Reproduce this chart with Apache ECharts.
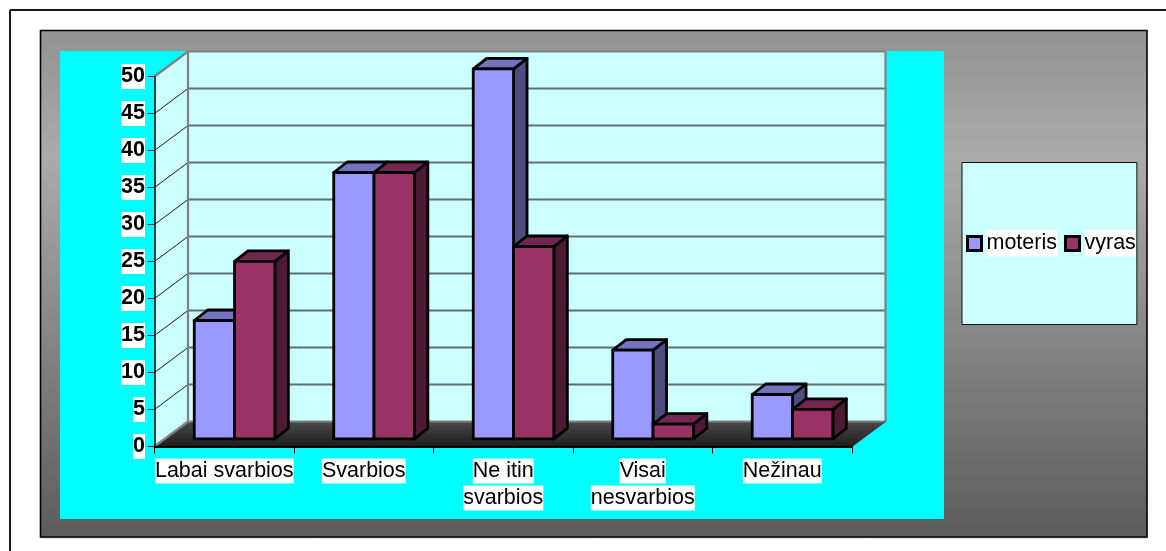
<!DOCTYPE html>
<html><head><meta charset="utf-8">
<style>html,body{margin:0;padding:0;background:#fff}#c{width:1166px;height:551px}</style>
<script src="https://cdn.jsdelivr.net/npm/echarts@6/dist/echarts.min.js"></script>
</head><body><div id="c"></div>
<script>
const categories = ['Labai svarbios','Svarbios','Ne itin\nsvarbios','Visai\nnesvarbios','Nežinau'];
const moteris = [16,36,50,12,6];
const vyras = [24,36,26,2,4];
const yTicks = [0,5,10,15,20,25,30,35,40,45,50];

const FONT = '"Liberation Sans", Arial, sans-serif';
const DEPTH_X = 33.5, DEPTH_Y = -25;       // plot box depth
const GAP_X = 10.3, GAP_Y = -7.6;          // floor margin in front of the bars
const BAR_DX = 13.5, BAR_DY = -10.5;       // bar depth
const BAR_W = 40.3;

function barRenderer(side, front, top, right){
  return function(params, api){
    const cat = api.value(0), val = api.value(1);
    const c0 = api.coord([cat,0]), c1 = api.coord([cat,val]);
    const x0 = c0[0] + GAP_X + (side<0 ? -BAR_W : 0), x1 = x0 + BAR_W;
    const yb = c0[1] + GAP_Y, yt = c1[1] + GAP_Y;
    const ln = {stroke:'#000', lineWidth:2.8, lineJoin:'round'};
    return {type:'group', children:[
      {type:'polygon', shape:{points:[[x1,yt],[x1+BAR_DX,yt+BAR_DY],[x1+BAR_DX,yb+BAR_DY],[x1,yb]]}, style:Object.assign({fill:right},ln)},
      {type:'polygon', shape:{points:[[x0,yt],[x0+BAR_DX,yt+BAR_DY],[x1+BAR_DX,yt+BAR_DY],[x1,yt]]}, style:Object.assign({fill:top},ln)},
      {type:'rect', shape:{x:x0,y:yt,width:BAR_W,height:yb-yt}, style:Object.assign({fill:front},ln)}
    ]};
  };
}

function frameRenderer(params, api){
  const g = params.coordSys, L=g.x, R=g.x+g.width, T=g.y, B=g.y+g.height;
  const bL=L+DEPTH_X, bR=R+DEPTH_X, bT=T+DEPTH_Y, bB=B+DEPTH_Y;
  const children = [
    {type:'polygon', shape:{points:[[L,T],[bL,bT],[bL,bB],[L,B]]}, style:{fill:'#ccffff'}},
    {type:'rect', shape:{x:bL,y:bT,width:bR-bL,height:bB-bT}, style:{fill:'#ccffff'}},
    {type:'polygon', shape:{points:[[L,B],[bL,bB],[bR,bB],[R,B]]},
      style:{fill:{type:'linear',x:0,y:0,x2:0,y2:1,colorStops:[{offset:0,color:'#4a4a4a'},{offset:1,color:'#1c1c1c'}]}}}
  ];
  yTicks.forEach(v=>{
    const y = api.coord([0,v])[1];
    if(v>0 && v<50){
      children.push({type:'line', shape:{x1:bL,y1:y+DEPTH_Y,x2:bR,y2:y+DEPTH_Y}, style:{stroke:'#607070',lineWidth:2}});
      children.push({type:'line', shape:{x1:L,y1:y,x2:bL,y2:y+DEPTH_Y}, style:{stroke:'#1a1a1a',lineWidth:1}});
    }
  });
  const edge = {stroke:'#808080', lineWidth:2.2};
  [[L,T,bL,bT],[L,B,bL,bB],[bL,bT,bR,bT],[bL,bT,bL,bB],[bR,bT,bR,bB],[bL,bB,bR,bB]].forEach(s=>{
    children.push({type:'line', shape:{x1:s[0],y1:s[1],x2:s[2],y2:s[3]}, style:edge});
  });
  children.push({type:'line', shape:{x1:R,y1:B,x2:bR,y2:bB}, style:{stroke:'#303030',lineWidth:1}});
  return {type:'group', children};
}

const option = {
  animation:false,
  textStyle:{fontFamily:FONT},
  graphic:{elements:[
    {type:'line', z:-20, shape:{x1:10,y1:10,x2:1166,y2:10}, style:{stroke:'#1a1a1a',lineWidth:2}},
    {type:'line', z:-20, shape:{x1:10,y1:10,x2:10,y2:551}, style:{stroke:'#1a1a1a',lineWidth:2}},
    {type:'line', z:-20, shape:{x1:41,y1:538,x2:1148,y2:538}, style:{stroke:'#bdbdbd',lineWidth:1}},
    {type:'rect', z:-19, shape:{x:40.5,y:30.5,width:1106.5,height:506.5},
      style:{stroke:'#000',lineWidth:1.6,
        fill:{type:'linear',x:0,y:0,x2:0,y2:1,colorStops:[{offset:0,color:'#929292'},{offset:0.25,color:'#ababab'},{offset:1,color:'#5c5c5c'}]}}},
    {type:'rect', z:-18, shape:{x:60,y:51,width:884,height:468}, style:{fill:'#00ffff'}}
  ]},
  grid:{left:154.5, top:76.5, width:697.5, height:370, containLabel:false},
  xAxis:{type:'category', data:categories, z:1,
    axisLine:{show:true,lineStyle:{color:'#000',width:2}},
    axisTick:{show:true,length:7,lineStyle:{color:'#000',width:1},alignWithLabel:false},
    axisLabel:{interval:0, margin:11, color:'#000',
      formatter:v=>v.split('\n').map(s=>'{a|'+s+'}').join('\n'),
      rich:{a:{fontFamily:FONT,fontSize:21.5,color:'#000',backgroundColor:'#fff',height:25,lineHeight:27}}},
    splitLine:{show:false}},
  yAxis:{type:'value', min:0, max:50, interval:5, z:1,
    axisLine:{show:true,lineStyle:{color:'#000',width:1.5}},
    axisTick:{show:true,length:7,lineStyle:{color:'#1a3a3a',width:1}},
    axisLabel:{margin:9.5, color:'#000', fontFamily:FONT, fontSize:21.5, fontWeight:'bold', backgroundColor:'#fff', lineHeight:25},
    splitLine:{show:false}},
  legend:{
    data:['moteris','vyras'], orient:'horizontal',
    left:962, top:162.5,
    padding:[68,1,68,4], itemGap:7, itemWidth:14, itemHeight:14, icon:'rect',
    backgroundColor:'#ccffff', borderColor:'#111', borderWidth:1,
    itemStyle:{borderColor:'#000',borderWidth:3},
    textStyle:{fontFamily:FONT,fontSize:21.5,color:'#000',backgroundColor:'#fff',padding:[2,0,2,0]},
    selectedMode:false
  },
  series:[
    {type:'custom', name:'frame', z:0, silent:true, renderItem:frameRenderer, data:[[0]], encode:{x:0}, tooltip:{show:false}},
    {type:'custom', name:'moteris', z:2, renderItem:barRenderer(-1,'#9999ff','#7373bf','#4d4d80'),
      itemStyle:{color:'#9999ff'},
      data:moteris.map((v,i)=>[i,v]), encode:{x:0,y:1}},
    {type:'custom', name:'vyras', z:3, renderItem:barRenderer(1,'#993366','#732650','#4d1a33'),
      itemStyle:{color:'#993366'},
      data:vyras.map((v,i)=>[i,v]), encode:{x:0,y:1}}
  ]
};
echarts.init(document.getElementById('c'),null,{renderer:'canvas'}).setOption(option);
</script></body></html>
